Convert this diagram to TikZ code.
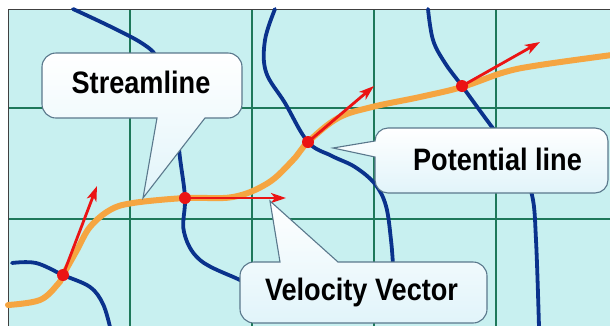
\documentclass[tikz,border=0pt]{standalone}
\usepackage{fontspec}
\setmainfont{Liberation Sans}
\usetikzlibrary{arrows.meta}

\definecolor{panelcyan}{RGB}{200,240,240}
\definecolor{gridgreen}{RGB}{30,120,90}
\definecolor{potblue}{RGB}{10,50,140}
\definecolor{streamorange}{RGB}{245,165,65}
\definecolor{vecred}{RGB}{235,20,20}
\definecolor{callgray}{RGB}{90,120,140}
\definecolor{callfill}{RGB}{225,244,250}

\begin{document}
\begin{tikzpicture}[
  x=1pt,y=-1pt,
  gridline/.style={line width=1.5pt,draw=gridgreen},
  potline/.style={line width=3.8pt,draw=potblue,line cap=round},
  stream/.style={line width=6pt,draw=streamorange,line cap=round},
  vec/.style={line width=2.8pt,draw=vecred,-{Stealth[length=15pt,width=10pt,inset=4pt]}},
  dot/.style={circle,fill=vecred,inner sep=0pt,minimum size=12pt},
  callout/.style={draw=callgray,line width=1.1pt,top color=white,bottom color=callfill},
  lbl/.style={font=\fontsize{31}{31}\selectfont\bfseries,xscale=0.875,inner sep=0pt,anchor=base},
]
  \useasboundingbox (0,0) rectangle (610,325);
  \clip (0,0) rectangle (610,325);
  \fill[white] (0,0) rectangle (610,325);

  % panel and grid
  \fill[panelcyan] (8,9) rectangle (612,327);
  \foreach \gx in {130,252,374,496}
    \draw[gridline] (\gx,9) -- (\gx,327);
  \foreach \gy in {108,219}
    \draw[gridline] (8,\gy) -- (612,\gy);
  \draw[line width=1pt,black!75] (8,330) |- (612,9);

  % potential lines
  \draw[potline] plot[smooth,tension=0.6] coordinates
    {(73,9) (140,42) (160,64) (174,110) (180,158) (185,198) (184,232) (200,260) (240,280) (275,296)};
  \draw[potline] plot[smooth,tension=0.6] coordinates
    {(12,263) (36,263) (63,275) (90,287) (103,304) (110,327)};
  \draw[potline] plot[smooth,tension=0.6] coordinates
    {(275,9) (265,40) (266,72) (285,103) (308,142) (332,156) (355,167) (375,184) (386,206) (391,240) (393,265)};
  \draw[potline] plot[smooth,tension=0.6] coordinates
    {(428,9) (433,40) (445,63) (462,86) (492,127) (518,160) (532,195) (536,240) (539,327)};

  % streamline
  \draw[stream] plot[smooth,tension=0.6] coordinates
    {(8,305) (40,300) (58,284) (63,275) (77,250) (90,227) (110,210) (133,203) (185,198) (233,197) (268,183) (293,160) (308,142) (338,118) (372,107) (420,97) (462,87) (505,72) (540,65) (612,55)};

  % velocity vectors
  \node[dot] (p1) at (63,275) {};
  \node[dot] (p2) at (185,198) {};
  \node[dot] (p3) at (308,142) {};
  \node[dot] (p4) at (462,86) {};
  \coordinate (v1) at (97,186);
  \coordinate (v2) at (286,198);
  \coordinate (v3) at (374,86);
  \coordinate (v4) at (540,42);
  \draw[vec] (p1.center) -- (v1);
  \draw[vec] (p2.center) -- (v2);
  \draw[vec] (p3.center) -- (v3);
  \draw[vec] (p4.center) -- (v4);

  % callouts
  \coordinate (stip) at (143,198);
  \coordinate (ptip) at (333,148);
  \coordinate (vtip) at (270,201);
  \draw[callout] (205,118) -- (stip) -- (157,118) [rounded corners=14pt]
    -- (42,118) -- (42,53) -- (242,53) -- (242,118) [sharp corners] -- cycle;
  \draw[callout] (375,157) -- (ptip) -- (375,141) [rounded corners=13pt]
    -- (375,128) -- (608,128) -- (608,193) -- (375,193) [sharp corners] -- cycle;
  \draw[callout] (280,262) -- (vtip) -- (338,262) [rounded corners=14pt]
    -- (487,262) -- (487,323) -- (240,323) -- (240,262) [sharp corners] -- cycle;

  \node[lbl] (streamlbl) at (141,93) {Streamline};
  \node[lbl] (potlbl) at (497.5,170) {Potential line};
  \node[lbl] (vellbl) at (361.5,300) {Velocity Vector};
\end{tikzpicture}
\end{document}
